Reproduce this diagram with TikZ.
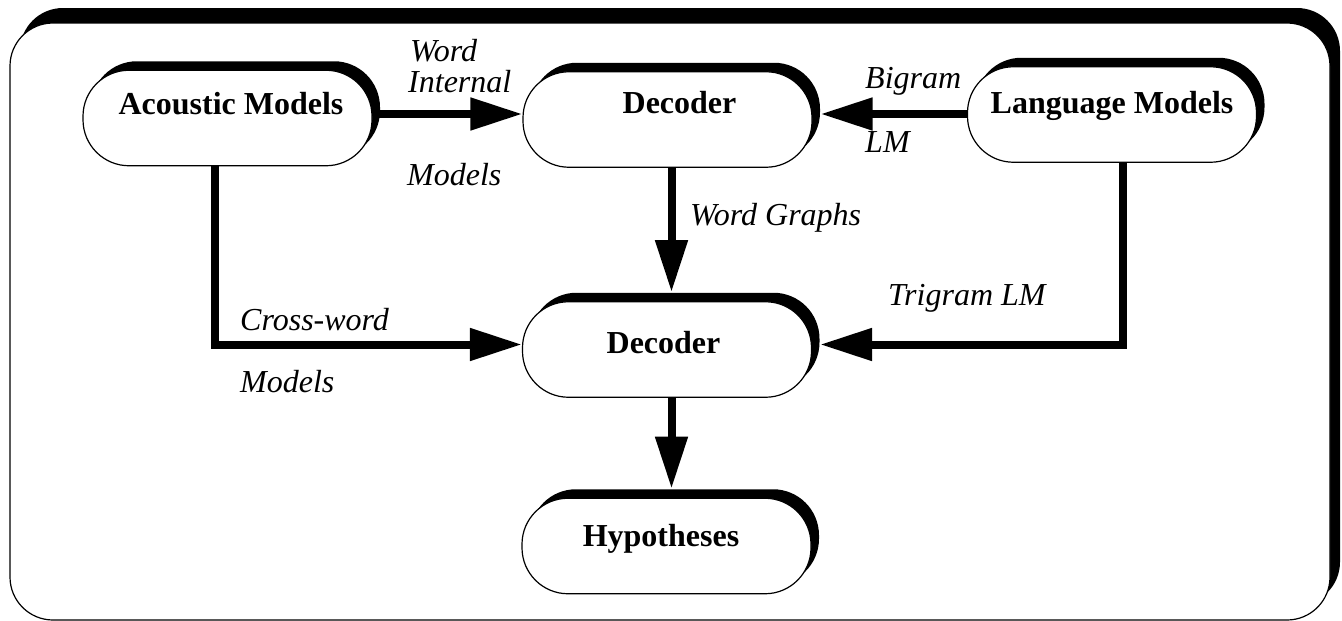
\documentclass[tikz,border=0pt]{standalone}
\usepackage{fontspec}
\setmainfont{Liberation Serif}
\usetikzlibrary{arrows.meta,shadows}
\tikzset{
  pill/.style={draw, line width=1.2pt, fill=white, rounded corners=46pt,
    inner sep=0pt, minimum width=289pt, minimum height=95.5pt,
    font=\fontsize{32}{38}\selectfont\bfseries, text height=22pt,
    general shadow={fill=black, shadow xshift=8pt, shadow yshift=9pt}},
  conn/.style={line width=8pt, -{Triangle[length=52pt,width=31pt]}},
  lbl/.style={anchor=base west, inner sep=0pt, font=\fontsize{32}{38}\selectfont\itshape},
}
\begin{document}
\begin{tikzpicture}[x=1pt,y=-1pt]
\useasboundingbox (0,0) rectangle (1342,621);
% frame
\draw[line width=1.2pt, fill=white, rounded corners=43pt,
  general shadow={fill=black, shadow xshift=10pt, shadow yshift=15pt}]
  (10,23) rectangle (1330,620);
% nodes
\node[pill, text depth=30pt] (ac) at (227.5,118) {\hspace*{7pt}Acoustic Models};
\node[pill, text depth=35pt] (dec1) at (667.5,119.5) {\hspace*{24pt}Decoder};
\node[pill, text depth=25pt] (lm) at (1112,114.5) {Language Models};
\node[pill, text depth=15pt] (dec2) at (667,349.5) {Decoder\hspace*{7pt}};
\node[pill, text depth=22pt] (hyp) at (666.5,546) {Hypotheses\hspace*{11pt}};
% helper coordinates
\coordinate (rowA) at (0,114);
\coordinate (rowB) at (0,344.5);
\coordinate (colA) at (215,0);
\coordinate (colL) at (1123,0);
\coordinate (colD) at (671.5,0);
\coordinate (d1r) at ([xshift=8pt]dec1.east);
\coordinate (d2r) at ([xshift=8pt]dec2.east);
\coordinate (d2t) at ([yshift=9pt]dec2.north);
\coordinate (hyt) at ([yshift=9pt]hyp.north);
% connectors
\draw[conn] (ac.east |- rowA) -- (dec1.west |- rowA);
\draw[conn] (lm.west |- rowA) -- (d1r |- rowA);
\draw[conn] (dec1.south -| colD) -- (d2t -| colD);
\draw[conn] (ac.south -| colA) -- (colA |- rowB) -- (dec2.west |- rowB);
\draw[conn] (lm.south -| colL) -- (colL |- rowB) -- (d2r |- rowB);
\draw[conn] (dec2.south -| colD) -- (hyt -| colD);
% labels
\node[lbl] (l1) at (410,61) {Word};
\node[lbl] (l2) at (408,92) {Internal};
\node[lbl] (l3) at (407,185) {Models};
\node[lbl] (l4) at (690,225) {Word Graphs};
\node[lbl] (l5) at (865,88) {Bigram};
\node[lbl] (l6) at (865,152) {LM};
\node[lbl] (l7) at (888,305) {Trigram LM};
\node[lbl] (l8) at (240,330) {Cross-word};
\node[lbl] (l9) at (240,392) {Models};
\end{tikzpicture}
\end{document}
